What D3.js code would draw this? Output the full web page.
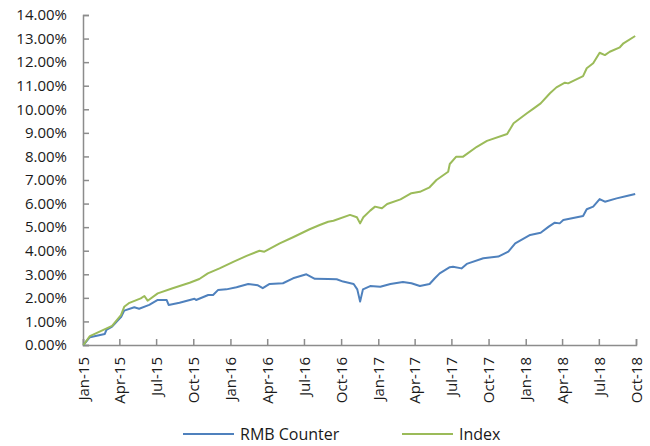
<!DOCTYPE html>
<html>
<head>
<meta charset="utf-8">
<script src="https://cdn.jsdelivr.net/npm/d3@7"></script>
<style>
  html, body { margin: 0; padding: 0; background: #fff; }
  svg { display: block; }
  text { font-family: "Open Sans", sans-serif; fill: #1a1a1a; }
</style>
</head>
<body>
<svg id="chart" width="650" height="446"></svg>
<script>
// ---- Data ----
const seriesNames = ["RMB Counter", "Index"];

const rmbDates = ["2015-01-02","2015-01-18","2015-02-24","2015-02-28","2015-03-14","2015-04-05","2015-04-13","2015-05-08","2015-05-20","2015-06-14","2015-07-05","2015-07-27","2015-08-01","2015-08-28","2015-10-04","2015-10-08","2015-11-07","2015-11-19","2015-12-01","2015-12-22","2016-01-16","2016-02-14","2016-03-09","2016-03-21","2016-04-07","2016-05-10","2016-06-04","2016-07-07","2016-07-28","2016-08-30","2016-09-20","2016-10-06","2016-11-01","2016-11-10","2016-11-17","2016-11-24","2016-12-12","2017-01-06","2017-01-31","2017-03-03","2017-03-24","2017-04-14","2017-05-08","2017-05-21","2017-06-02","2017-06-27","2017-07-05","2017-07-26","2017-08-08","2017-09-18","2017-10-25","2017-11-19","2017-12-06","2018-01-12","2018-02-07","2018-02-27","2018-03-14","2018-03-26","2018-04-04","2018-05-23","2018-06-01","2018-06-17","2018-07-03","2018-07-16","2018-08-14","2018-09-08","2018-09-29"];
const rmbValues = [0.00,0.33,0.47,0.64,0.78,1.18,1.46,1.60,1.54,1.70,1.91,1.91,1.70,1.79,1.96,1.91,2.12,2.12,2.33,2.36,2.45,2.59,2.53,2.41,2.59,2.62,2.83,3.00,2.81,2.80,2.79,2.69,2.59,2.36,1.84,2.36,2.50,2.47,2.59,2.67,2.62,2.50,2.59,2.83,3.04,3.30,3.32,3.25,3.44,3.68,3.75,3.96,4.31,4.67,4.76,5.02,5.19,5.16,5.30,5.47,5.76,5.87,6.19,6.08,6.22,6.32,6.41];

const indexDates = ["2015-01-02","2015-01-18","2015-03-14","2015-04-05","2015-04-13","2015-04-26","2015-05-24","2015-06-02","2015-06-10","2015-07-05","2015-08-11","2015-09-22","2015-10-16","2015-11-06","2015-12-05","2016-01-08","2016-02-10","2016-03-13","2016-03-25","2016-05-02","2016-06-04","2016-07-15","2016-08-09","2016-08-30","2016-09-12","2016-10-23","2016-11-09","2016-11-17","2016-11-25","2016-12-12","2016-12-24","2017-01-10","2017-01-23","2017-02-25","2017-03-24","2017-04-14","2017-05-08","2017-05-25","2017-06-23","2017-06-27","2017-07-13","2017-07-30","2017-09-02","2017-09-27","2017-11-16","2017-12-02","2018-01-04","2018-01-21","2018-02-07","2018-03-02","2018-03-18","2018-04-08","2018-04-16","2018-05-23","2018-06-01","2018-06-17","2018-07-03","2018-07-16","2018-07-28","2018-08-22","2018-08-31","2018-09-29"];
const indexValues = [0.00,0.38,0.81,1.27,1.62,1.79,1.98,2.08,1.88,2.19,2.41,2.64,2.80,3.04,3.25,3.53,3.78,4.00,3.96,4.31,4.57,4.91,5.09,5.23,5.27,5.52,5.42,5.16,5.42,5.70,5.87,5.80,5.98,6.18,6.44,6.50,6.69,7.00,7.35,7.68,7.99,7.99,8.41,8.66,8.95,9.41,9.83,10.04,10.25,10.68,10.93,11.13,11.10,11.41,11.74,11.95,12.40,12.30,12.44,12.63,12.80,13.11];

const yTickValues = [0,1,2,3,4,5,6,7,8,9,10,11,12,13,14];
const xTickDates = ["2015-01-01","2015-04-01","2015-07-01","2015-10-01","2016-01-01","2016-04-01","2016-07-01","2016-10-01","2017-01-01","2017-04-01","2017-07-01","2017-10-01","2018-01-01","2018-04-01","2018-07-01","2018-10-01"];
const colors = ["#4F81BD", "#9BBB59"];

// ---- Chart ----
const parse = d3.timeParse("%Y-%m-%d");
const svg = d3.select("#chart");
const mLeft = 83, mRight = 636, mTop = 15, mBottom = 345;

const x = d3.scaleTime()
  .domain([parse("2015-01-01"), parse("2018-10-01")])
  .range([mLeft, mRight]);
const y = d3.scaleLinear().domain([0, 14]).range([mBottom, mTop]);

const axisColor = "#8c8c8c";

// Y axis
const yAxis = d3.axisLeft(y)
  .tickValues(yTickValues)
  .tickSize(-6)
  .tickPadding(16)
  .tickFormat(d => d.toFixed(2) + "%");
const gy = svg.append("g").attr("transform", `translate(${mLeft},0)`).call(yAxis);
gy.select(".domain").attr("stroke", axisColor).attr("stroke-width", 1.5);
gy.selectAll(".tick line").attr("stroke", axisColor).attr("stroke-width", 1.5);
gy.selectAll(".tick text").style("font-size", "15px").attr("fill", "#1a1a1a").attr("font-family", "Open Sans");

// X axis
const xAxis = d3.axisBottom(x)
  .tickValues(xTickDates.map(parse))
  .tickSize(-6)
  .tickFormat(d3.timeFormat("%b-%y"));
const gx = svg.append("g").attr("transform", `translate(0,${mBottom})`).call(xAxis);
gx.select(".domain").attr("stroke", axisColor).attr("stroke-width", 1.5);
gx.selectAll(".tick line").attr("stroke", axisColor).attr("stroke-width", 1.5);
gx.selectAll(".tick text")
  .style("font-size", "15px")
  .attr("fill", "#1a1a1a")
  .attr("font-family", "Open Sans")
  .attr("transform", "rotate(-90)")
  .attr("text-anchor", "end")
  .attr("x", -12)
  .attr("y", 0)
  .attr("dy", "0.35em");

// Lines
const line = d3.line().x(d => x(d.date)).y(d => y(d.value));
const rmbData = rmbDates.map((d, i) => ({ date: parse(d), value: rmbValues[i] }));
const indexData = indexDates.map((d, i) => ({ date: parse(d), value: indexValues[i] }));

[rmbData, indexData].forEach((data, i) => {
  svg.append("path")
    .datum(data)
    .attr("fill", "none")
    .attr("stroke", colors[i])
    .attr("stroke-width", 2)
    .attr("stroke-linejoin", "round")
    .attr("d", line);
});

// Legend
const legendY = 434;
const legendItems = [
  { name: seriesNames[0], x0: 183, color: colors[0] },
  { name: seriesNames[1], x0: 402, color: colors[1] }
];
const lg = svg.append("g");
legendItems.forEach(it => {
  lg.append("line")
    .attr("x1", it.x0).attr("x2", it.x0 + 51)
    .attr("y1", legendY).attr("y2", legendY)
    .attr("stroke", it.color).attr("stroke-width", 2);
  lg.append("text")
    .attr("x", it.x0 + 57)
    .attr("y", legendY)
    .attr("dy", "0.35em")
    .style("font-size", "16px")
    .text(it.name);
});
</script>
</body>
</html>
